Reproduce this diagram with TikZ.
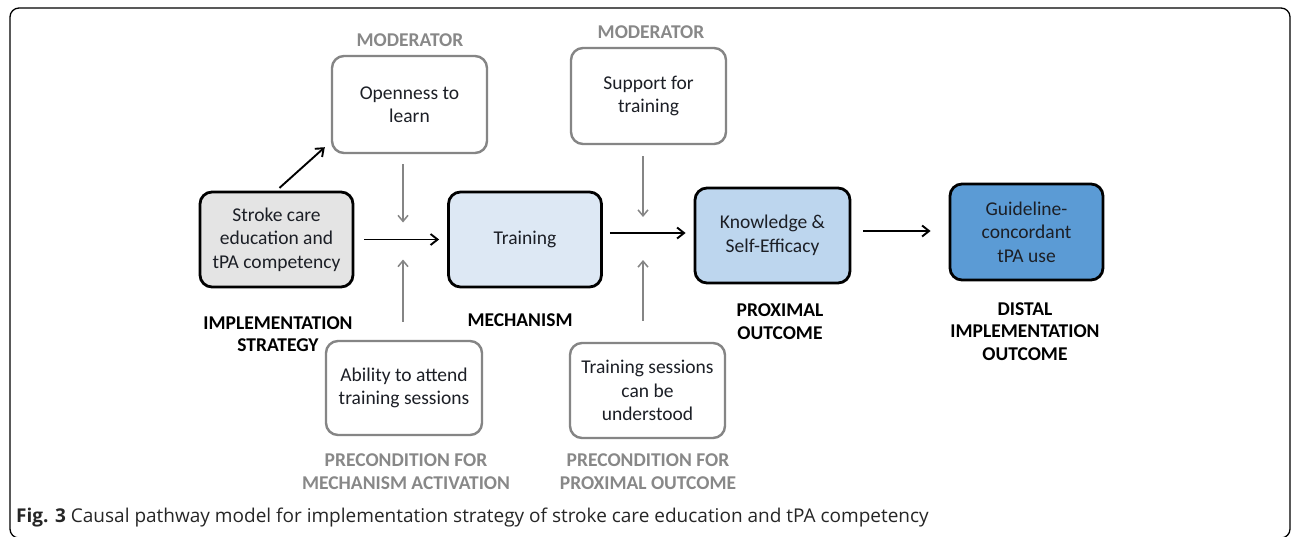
\documentclass[tikz,border=0pt]{standalone}
\usepackage{fontspec}
\setmainfont{Carlito}
\newfontfamily\capfont{Open Sans}
\usetikzlibrary{arrows.meta,calc}
\definecolor{boxtext}{HTML}{1C1F26}
\definecolor{grayline}{HTML}{858585}
\definecolor{graytext}{HTML}{888888}
\definecolor{strokefill}{HTML}{E4E4E4}
\definecolor{trainfill}{HTML}{DDE8F4}
\definecolor{knowfill}{HTML}{BDD6EE}
\definecolor{guidefill}{HTML}{5B9BD5}
\tikzset{
  mainbox/.style={draw=black, line width=2.8pt, rounded corners=12pt, align=center,
    font=\fontsize{19.5}{23.5}\selectfont, text=boxtext, inner sep=0pt},
  modbox/.style={draw=grayline, line width=2.4pt, rounded corners=12pt, align=center,
    font=\fontsize{19.5}{23.5}\selectfont, text=boxtext, fill=white, inner sep=0pt},
  blacklabel/.style={align=center, font=\fontsize{19.5}{22.5}\selectfont\bfseries, text=black},
  graylabel/.style={align=center, font=\fontsize{19.5}{22.5}\selectfont\bfseries, text=graytext},
  blackarrow/.style={draw=black, line width=1.9pt, -{Straight Barb[length=7pt,width=11pt,line width=1.9pt]}},
  grayarrow/.style={draw=grayline, line width=1.5pt, -{Straight Barb[length=6pt,width=10pt,line width=1.5pt]}},
}
\begin{document}
\begin{tikzpicture}[x=1pt,y=-1pt]
\useasboundingbox (0,0) rectangle (1292,536);
\fill[white] (0,0) rectangle (1292,536);
\draw[line width=1.3pt, rounded corners=9pt] (10,8) rectangle (1290,538);

% main boxes
\node[mainbox, fill=strokefill, minimum width=153pt, minimum height=95pt] (stroke) at (276.5,239.5)
  {Stroke care\\education and\\tPA competency};
\node[mainbox, fill=trainfill, minimum width=153pt, minimum height=95pt] (training) at (525,239.5)
  {Training};
\node[mainbox, fill=knowfill, minimum width=155pt, minimum height=95pt] (knowledge) at (772.5,235.5)
  {Knowledge \&\\Self-Efficacy};
\node[mainbox, fill=guidefill, minimum width=153pt, minimum height=96pt] (guide) at (1026.5,232)
  {Guideline-\\concordant\\tPA use};

% moderator / precondition boxes
\node[modbox, minimum width=155pt, minimum height=97pt] (openness) at (409.5,104.5)
  {Openness to\\learn};
\node[modbox, minimum width=155pt, minimum height=96pt] (support) at (648.5,96)
  {Support for\\training};
\node[modbox, minimum width=156pt, minimum height=94pt] (ability) at (404,388)
  {Ability to attend\\training sessions};
\node[modbox, minimum width=155pt, minimum height=95pt] (sessions) at (647.5,390.5)
  {Training sessions\\can be\\understood};

% labels
\node[graylabel] (mod1) at (410,40) {MODERATOR};
\node[graylabel] (mod2) at (651,32) {MODERATOR};
\node[blacklabel] (lstrat) at (278,334) {IMPLEMENTATION\\STRATEGY};
\node[blacklabel] (lmech) at (520,320) {MECHANISM};
\node[blacklabel] (lprox) at (780,321.5) {PROXIMAL\\OUTCOME};
\node[blacklabel] (ldist) at (1025,331.5) {DISTAL\\IMPLEMENTATION\\OUTCOME};
\node[graylabel] (lpre1) at (406,471.5) {PRECONDITION FOR\\MECHANISM ACTIVATION};
\node[graylabel] (lpre2) at (648,471.5) {PRECONDITION FOR\\PROXIMAL OUTCOME};

% junction coordinates
\coordinate (j1) at (403,239.5);
\coordinate (j2) at (643,233);
\coordinate (j3) at (900,231);
\coordinate (diagend) at ($(openness.south west)+(-6,-7)$);

% black arrows
\draw[blackarrow, shorten <=10pt, shorten >=8pt] (stroke.east) -- (training.west);
\draw[blackarrow, shorten <=7pt, shorten >=8pt] (training.east |- j2) -- (knowledge.west |- j2);
\draw[blackarrow, shorten <=12pt, shorten >=18pt] (knowledge.east |- j3) -- (guide.west |- j3);
\draw[blackarrow, shorten <=4pt] (stroke.north) -- (diagend);

% gray arrows
\draw[grayarrow, shorten <=10pt] (openness.south -| j1) -- ($(j1)+(0,-17)$);
\draw[grayarrow, shorten <=18pt] (ability.north -| j1) -- ($(j1)+(0,20)$);
\draw[grayarrow, shorten <=11pt] (support.south -| j2) -- ($(j2)+(0,-16)$);
\draw[grayarrow, shorten <=21pt] (sessions.north -| j2) -- ($(j2)+(0,27)$);

% caption
\node[anchor=base west, inner sep=0pt, font=\capfont\fontsize{19}{22}\selectfont, text=black!85] (caption) at (16,522)
  {\textbf{Fig. 3} Causal pathway model for implementation strategy of stroke care education and tPA competency};
\end{tikzpicture}
\end{document}
